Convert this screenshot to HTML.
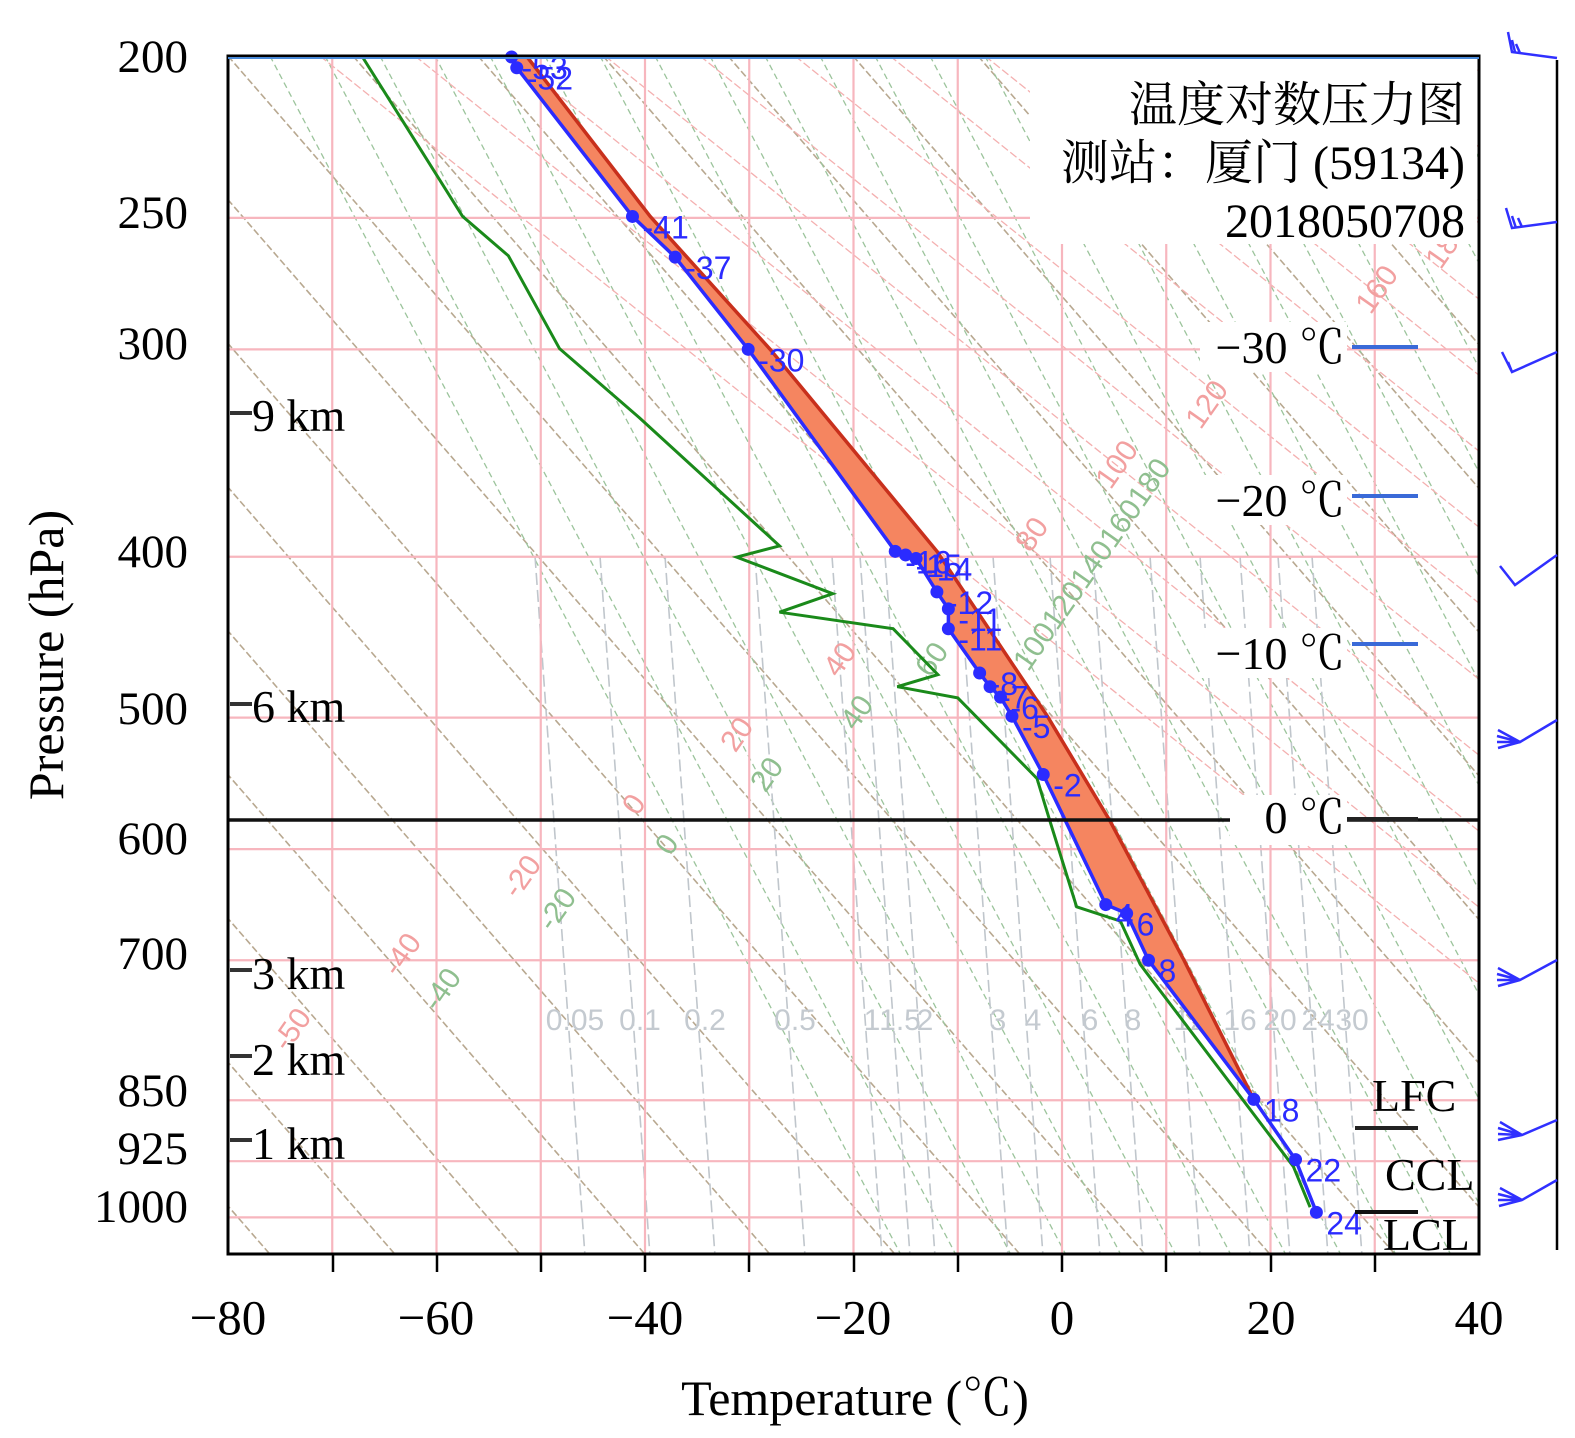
<!DOCTYPE html>
<html><head><meta charset="utf-8">
<style>
html,body{margin:0;padding:0;background:#fff;}
svg{display:block;}
text{font-family:"Liberation Serif","Noto Serif CJK SC",serif;}
.s{font-family:"Liberation Sans","DejaVu Sans",sans-serif;}
</style></head>
<body>
<svg id="chart" width="1575" height="1438" viewBox="0 0 1575 1438" xmlns="http://www.w3.org/2000/svg">
<g id="bg"></g>
<g id="data"></g>
<g id="fg"></g>
</svg>
<script>
// ---- data arrays ----
const xTicks = [-80, -60, -40, -20, 0, 20, 40];
const isotherms = [-70, -60, -50, -40, -30, -20, -10, 0, 10, 20, 30];
const pLabels = [200, 250, 300, 400, 500, 600, 700, 850, 925, 1000];
const tempP = [200, 203, 249.5, 264, 300, 397, 399, 401, 420, 430, 442, 470, 479, 486, 499, 541, 648, 656, 700, 849, 923, 993];
const tempT = [-52.8, -52.3, -41.2, -37.1, -30.1, -16.0, -15.0, -14.0, -12.0, -10.9, -10.9, -7.9, -6.9, -5.9, -4.8, -1.8, 4.2, 6.2, 8.3, 18.4, 22.4, 24.4];
const dewP = [200, 249.5, 263.5, 299.7, 330, 394, 400.2, 421, 432, 442, 471, 479, 486.5, 544, 576, 650, 663, 704, 932, 986];
const dewT = [-67.1, -57.5, -53.1, -48.2, -40.5, -27.1, -31.2, -22.0, -27.1, -16.2, -11.9, -15.8, -10.0, -2.4, -1.2, 1.4, 5.6, 7.5, 22.2, 23.8];
const parcelP = [849, 700, 577, 499, 397, 300, 249.5, 200];
const parcelT = [18.4, 11.7, 4.6, -1.4, -12.0, -28.0, -39.5, -51.3];
const mixRatios = ["0.05","0.1","0.2","0.5","1","1.5","2","3","4","6","8","12","16","20","24","30"];
const mixX = [575, 640, 705, 795, 872, 900, 925, 998, 1033, 1090, 1133, 1190, 1240, 1280, 1318, 1352];

// ---- scales ----
const X0 = 228, X1 = 1479, Y0 = 56, Y1 = 1254;
function xT(t){ return X0 + (t + 80) * 10.425; }
function yP(p){ return 57 + 721 * Math.log(p / 200); }
const NS = "http://www.w3.org/2000/svg";
function mk(parent, tag, attrs, txt){
  const e = document.createElementNS(NS, tag);
  for (const k in attrs) e.setAttribute(k, attrs[k]);
  if (txt !== undefined) e.textContent = txt;
  parent.appendChild(e);
  return e;
}
const bg = document.getElementById('bg');
const dg = document.getElementById('data');

const defs = mk(document.getElementById('chart'), 'defs', {});
const cp = mk(defs, 'clipPath', {id: 'plotclip'});
mk(cp, 'rect', {x: X0, y: Y0, width: X1 - X0, height: Y1 - Y0});
bg.setAttribute('clip-path', 'url(#plotclip)');

for (let i = -12; i < 14; i++) {
  const x = 228 + i * 125;
  const l = mk(bg, 'line', {x1: x, y1: 56, x2: x + 1200 / 1.15, y2: 1256, stroke: '#b8a890', 'stroke-width': 1.6, 'stroke-dasharray': '7 3'});
  
  
}
for (let i = -6; i < 22; i++) {
  const x = 600 + i * 55;
  const l = mk(bg, 'line', {x1: x, y1: 56, x2: x + 1200 / 1.9, y2: 1256, stroke: '#9cc49c', 'stroke-width': 1.3, 'stroke-dasharray': '6 4'});
  
  
}
for (let i = -4; i < 18; i++) {
  const x = 700 + i * 95;
  const l = mk(bg, 'line', {x1: x, y1: 56, x2: x + 1200 / 0.8, y2: 1256, stroke: '#f4b0b0', 'stroke-width': 1.3, 'stroke-dasharray': '8 3'});
  
  
}
mixX.forEach(function(x){
  const l = mk(bg, 'line', {x1: x - 40, y1: 556, x2: x + 10, y2: 1256, stroke: '#c0c6cc', 'stroke-width': 1.6, 'stroke-dasharray': '12 5'});
  
  
});
isotherms.forEach(function(t){
  const l = mk(bg, 'line', {x1: xT(t), y1: Y0, x2: xT(t), y2: Y1, stroke: '#f7b6be', 'stroke-width': 2.2});
  
  
});
pLabels.slice(1).forEach(function(p){
  const l = mk(bg, 'line', {x1: X0, y1: yP(p), x2: X1, y2: yP(p), stroke: '#f7b6be', 'stroke-width': 2.2});
  
  
});
mixRatios.forEach(function(s, i){
  const t = mk(bg, 'text', {x: mixX[i], y: 1030, 'font-size': 30, fill: '#c4cad0', 'text-anchor': 'middle', class: 's'}, s);
  
  
});
const redLab = [["-50",300,1035],["-40",410,960],["-20",530,882],["0",642,810],["20",745,740],["40",848,665],["80",1040,540],["100",1125,470],["120",1215,410],["160",1385,295],["180",1455,250]];
redLab.forEach(function(d){
  const t = mk(bg, 'text', {x: d[1], y: d[2], 'font-size': 30, fill: '#f2a0a0', 'text-anchor': 'middle', class: 's', transform: 'rotate(-55 ' + d[1] + ' ' + d[2] + ')'}, d[0]);
  
  
});
const grnLab = [["-40",450,995],["-20",565,915],["0",675,850],["20",775,780],["40",865,718],["60",940,665],["100120140160180",1100,570]];
grnLab.forEach(function(d){
  const t = mk(bg, 'text', {x: d[1], y: d[2], 'font-size': 30, fill: '#8fbf8f', 'text-anchor': 'middle', class: 's', transform: 'rotate(-55 ' + d[1] + ' ' + d[2] + ')'}, d[0]);
  
  
});

function pts(ps, ts){ return ps.map(function(p, i){ return xT(ts[i]).toFixed(1) + ',' + yP(p).toFixed(1); }); }
const tUpper = [];
tempP.forEach(function(p, i){ if (p <= 850) tUpper.push([p, tempT[i]]); });
const fillPts = pts(parcelP, parcelT).concat(tUpper.map(function(d){ return xT(d[1]).toFixed(1) + ',' + yP(d[0]).toFixed(1); }));
const fill = mk(dg, 'polygon', {points: fillPts.join(' '), fill: '#f58560', stroke: 'none'});


const parcel = mk(dg, 'polyline', {points: pts(parcelP, parcelT).join(' '), fill: 'none', stroke: '#c8301c', 'stroke-width': 3.5});


const dew = mk(dg, 'polyline', {points: pts(dewP, dewT).join(' '), fill: 'none', stroke: '#1a8a1a', 'stroke-width': 3});


const temp = mk(dg, 'polyline', {points: pts(tempP, tempT).join(' '), fill: 'none', stroke: '#2b2bff', 'stroke-width': 3.5});


tempP.forEach(function(p, i){
  const c = mk(dg, 'circle', {cx: xT(tempT[i]), cy: yP(p), r: 6.5, fill: '#2b2bff'});
  
  
  const t = mk(dg, 'text', {x: xT(tempT[i]) + 10, y: yP(p) + 22, 'font-size': 32, fill: '#2b2bff', class: 's'}, String(Math.round(tempT[i])));
  
  
});
</script>
<svg style="position:absolute;left:0;top:0" width="1575" height="1438" viewBox="0 0 1575 1438" xmlns="http://www.w3.org/2000/svg">
  <rect x="1030" y="58" width="447" height="186" fill="#fff"/>
  <text x="1465" y="121" font-size="48" text-anchor="end">温度对数压力图</text>
  <text x="1465" y="179" font-size="48" text-anchor="end">测站：厦门 (59134)</text>
  <text x="1465" y="237" font-size="48" text-anchor="end">2018050708</text>
  <line x1="228" y1="820" x2="1479" y2="820" stroke="#111" stroke-width="3.5"/>
  <rect x="1200" y="322" width="147" height="50" fill="#fff"/>
  <text x="1345" y="363" font-size="46" text-anchor="end">−30 ℃</text>
  <line x1="1352" y1="347" x2="1418" y2="347" stroke="#3a6ad8" stroke-width="4"/>
  <rect x="1200" y="475" width="147" height="50" fill="#fff"/>
  <text x="1345" y="516" font-size="46" text-anchor="end">−20 ℃</text>
  <line x1="1352" y1="496" x2="1418" y2="496" stroke="#3a6ad8" stroke-width="4"/>
  <rect x="1200" y="628" width="147" height="50" fill="#fff"/>
  <text x="1345" y="669" font-size="46" text-anchor="end">−10 ℃</text>
  <line x1="1352" y1="644" x2="1418" y2="644" stroke="#3a6ad8" stroke-width="4"/>
  <rect x="1230" y="795" width="117" height="50" fill="#fff"/>
  <text x="1345" y="833" font-size="46" text-anchor="end">0 ℃</text>
  <line x1="1347" y1="819" x2="1418" y2="819" stroke="#222" stroke-width="4"/>
  <text x="1372" y="1111" font-size="46">LFC</text>
  <line x1="1355" y1="1128" x2="1418" y2="1128" stroke="#222" stroke-width="4"/>
  <text x="1385" y="1190" font-size="46">CCL</text>
  <text x="1383" y="1250" font-size="46">LCL</text>
  <line x1="1355" y1="1212" x2="1418" y2="1212" stroke="#111" stroke-width="4"/>
  <rect x="228" y="56" width="1251" height="1198" fill="none" stroke="#000" stroke-width="3"/>
  <line x1="228" y1="58" x2="1479" y2="58" stroke="#4a8ad8" stroke-width="2"/>
  <g stroke="#000" stroke-width="2.5">
    <line x1="333" y1="1254" x2="333" y2="1272"/><line x1="437" y1="1254" x2="437" y2="1272"/><line x1="541" y1="1254" x2="541" y2="1272"/><line x1="645" y1="1254" x2="645" y2="1272"/><line x1="749" y1="1254" x2="749" y2="1272"/><line x1="854" y1="1254" x2="854" y2="1272"/><line x1="958" y1="1254" x2="958" y2="1272"/><line x1="1062" y1="1254" x2="1062" y2="1272"/><line x1="1166" y1="1254" x2="1166" y2="1272"/><line x1="1271" y1="1254" x2="1271" y2="1272"/><line x1="1375" y1="1254" x2="1375" y2="1272"/>
  </g>
  <g font-size="49" text-anchor="middle">
    <text x="228" y="1334">−80</text><text x="436" y="1334">−60</text><text x="645" y="1334">−40</text><text x="853" y="1334">−20</text><text x="1062" y="1334">0</text><text x="1271" y="1334">20</text><text x="1479" y="1334">40</text>
  </g>
  <text x="855" y="1415" font-size="50" text-anchor="middle">Temperature (℃)</text>
  <g font-size="47" text-anchor="end">
    <text x="188" y="72">200</text><text x="188" y="228">250</text><text x="188" y="359">300</text><text x="188" y="567">400</text><text x="188" y="724">500</text><text x="188" y="854">600</text><text x="188" y="969">700</text><text x="188" y="1106">850</text><text x="188" y="1164">925</text><text x="188" y="1222">1000</text>
  </g>
  <text transform="translate(63 655) rotate(-90)" font-size="50" text-anchor="middle">Pressure (hPa)</text>
  <g>
    <line x1="230" y1="413" x2="252" y2="413" stroke="#333" stroke-width="4"/><text x="252" y="431" font-size="46">9 km</text>
    <line x1="230" y1="704" x2="252" y2="704" stroke="#333" stroke-width="4"/><text x="252" y="722" font-size="46">6 km</text>
    <line x1="230" y1="970" x2="252" y2="970" stroke="#333" stroke-width="4"/><text x="252" y="989" font-size="46">3 km</text>
    <line x1="230" y1="1056" x2="252" y2="1056" stroke="#333" stroke-width="4"/><text x="252" y="1075" font-size="46">2 km</text>
    <line x1="230" y1="1140" x2="252" y2="1140" stroke="#333" stroke-width="4"/><text x="252" y="1159" font-size="46">1 km</text>
  </g>
  <line x1="1557" y1="60" x2="1557" y2="1250" stroke="#000" stroke-width="2.5"/>
  <g stroke="#3030ff" stroke-width="2.5" fill="none">
    <path d="M1557 58 L1512 52 L1508 32 M1515 52 L1512 40 M1520 53 L1516 44"/>
    <path d="M1557 222 L1512 228 L1506 208 M1516 228 L1512 216 M1522 227 L1518 218"/>
    <path d="M1557 352 L1512 372 L1502 352 M1512 372 L1508 362"/>
    <path d="M1557 555 L1515 585 L1500 566"/>
    <path d="M1557 720 L1520 742 L1498 730 M1520 742 L1497 736 M1520 742 L1497 742 M1520 742 L1498 748"/>
    <path d="M1557 960 L1520 980 L1498 968 M1520 980 L1497 974 M1520 980 L1497 980 M1520 980 L1498 986"/>
    <path d="M1557 1120 L1522 1135 L1500 1122 M1522 1135 L1498 1128 M1522 1135 L1498 1134 M1522 1135 L1498 1140"/>
    <path d="M1557 1180 L1522 1200 L1500 1188 M1522 1200 L1498 1194 M1522 1200 L1498 1200 M1522 1200 L1499 1206"/>
  </g>
</svg>
</body></html>
